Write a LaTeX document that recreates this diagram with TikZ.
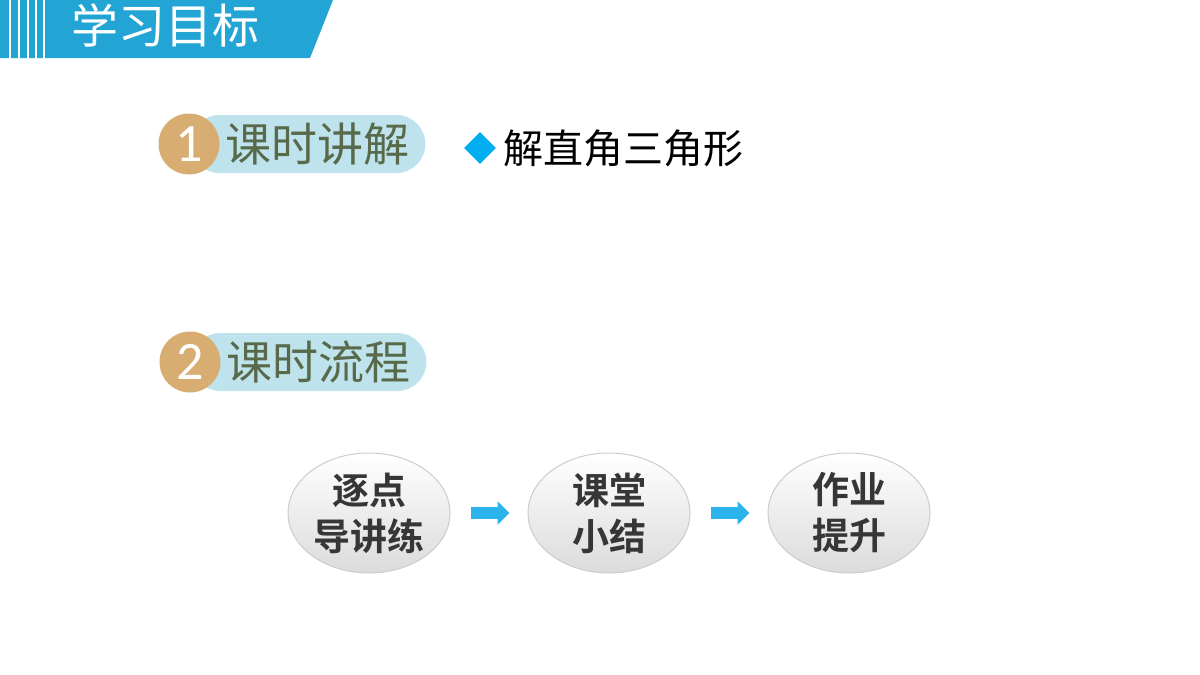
\documentclass[tikz,border=0pt]{standalone}
\usepackage{fontspec}
\setmainfont{Noto Sans CJK SC}[BoldFont={Noto Sans CJK SC Bold}]
\newfontfamily\digitfont{Carlito}
\usetikzlibrary{shapes.geometric,shapes.misc,arrows.meta,positioning}
\definecolor{headblue}{HTML}{22A4D5}
\definecolor{badgeorange}{HTML}{D8AD72}
\definecolor{pillblue}{HTML}{BEE3EC}
\definecolor{olivetext}{HTML}{596A4B}
\definecolor{diamondblue}{HTML}{00AEEF}
\definecolor{flowblue}{HTML}{2BB3EC}
\definecolor{stagetext}{HTML}{363636}

\begin{document}
\begin{tikzpicture}[x=0.5pt,y=-0.5pt,
  pill/.style={rounded rectangle,fill=pillblue,minimum width=117.5pt,minimum height=29pt,inner sep=0pt},
  badge/.style={circle,fill=badgeorange,minimum size=30.5pt,inner sep=0pt,text=white,font=\digitfont\fontsize{27}{30}\selectfont},
  sectext/.style={text=olivetext,font=\fontsize{23}{26}\selectfont,inner sep=0pt},
  stage/.style={ellipse,draw=gray!40,line width=0.5pt,top color=white,bottom color=gray!28,
    minimum width=81pt,minimum height=60pt,inner sep=0pt,align=center,text=stagetext,
    font=\bfseries\fontsize{18.5}{23}\selectfont},
  flow/.style={flowblue,line width=6pt,-{Triangle[length=6pt,width=11.5pt]},shorten <=10pt,shorten >=9pt}]
  \useasboundingbox (0,0) rectangle (1200,675);
  \fill[headblue] (0,0) -- (333,0) -- (310,58) -- (0,58) -- cycle;
  \foreach \x in {9,18,27,35,43}
    \fill[white] (\x,0) rectangle ++(2,58);
  \node[text=white,font=\fontsize{23.5}{26}\selectfont,inner sep=0pt] (title) at (165,25) {学习目标};

  \node[pill,anchor=west] (pill1) at (190,144) {};
  \node[badge] (num1) at (189,144) {1};
  \node[sectext] (sec1) at (317,144) {课时讲解};
  \node[diamond,fill=diamondblue,minimum size=16pt,inner sep=0pt] (dot1) at (480,148) {};
  \node[font=\fontsize{20}{24}\selectfont,inner sep=0pt,right=3.5pt of dot1] (topic) {解直角三角形};

  \node[pill,anchor=west] (pill2) at (191,362) {};
  \node[badge] (num2) at (190,362) {2};
  \node[sectext] (sec2) at (318,362) {课时流程};

  \node[stage] (lesson) at (369,513) {逐点\\导讲练};
  \node[stage] (summary) at (609,513) {课堂\\小结};
  \node[stage] (homework) at (849,513) {作业\\提升};
  \draw[flow] (lesson) -- (summary);
  \draw[flow] (summary) -- (homework);
\end{tikzpicture}
\end{document}
